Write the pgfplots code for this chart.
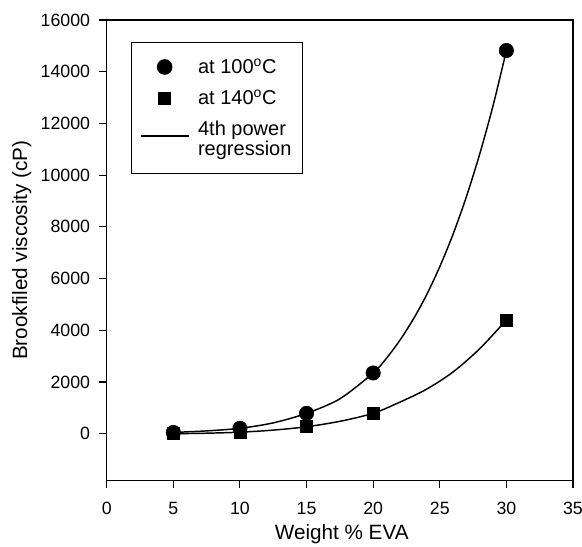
\documentclass[border=0pt]{standalone}
\usepackage{pgfplots}
\pgfplotsset{compat=1.18}
\usepackage{fontspec}
\setmainfont{Liberation Sans}
\pgfplotsset{
  reglegend/.style={legend image code/.code={\draw[##1] (0pt,2.5pt) -- (36pt,2.5pt); \path (0pt,-2.5pt);}}
}
\begin{document}
\begin{tikzpicture}
\begin{axis}[
  scale only axis,
  width=349.5pt, height=345pt,
  xmin=0, xmax=35, ymin=-1800, ymax=16000,
  xtick={0,5,...,35},
  ytick={0,2000,...,16000},
  xtick pos=bottom, ytick pos=left,
  tick align=outside,
  major tick length=6pt,
  tick style={black, line width=0.8pt},
  axis line style={line width=0.9pt},
  scaled y ticks=false,
  /pgf/number format/assume math mode=true,
  y tick label style={/pgf/number format/1000 sep={}, xshift=-3pt},
  x tick label style={yshift=-7pt},
  tick label style={font=\fontsize{13.3}{15}\selectfont},
  xlabel={Weight \% EVA},
  ylabel={Brookfiled viscosity (cP)},
  xlabel style={font=\fontsize{15.5}{18}\selectfont, at={(axis description cs:0.504,-0.118)}, anchor=center},
  ylabel style={font=\fontsize{15.5}{18}\selectfont, at={(axis description cs:-0.182,0.5)}, anchor=center},
  legend image code/.code={\draw[mark repeat=2,mark phase=2,#1] plot coordinates {(0pt,0pt) (18pt,0pt) (36pt,0pt)};},
  legend cell align=left,
  legend style={at={(axis description cs:0.052,0.952)}, anchor=north west,
    draw=black, line width=0.9pt, font=\fontsize{15}{13.5}\selectfont,
    inner xsep=6.25pt, inner ysep=10pt, row sep=7pt,
    nodes={align=left, font=\fontsize{15}{13.5}\selectfont},
    /tikz/every odd column/.append style={column sep=4.5pt}},
]
\addplot[only marks, mark=*, mark size=5.4pt, black] coordinates {
  (5,50) (10,210) (15,790) (20,2350) (30,14820)
};
\addlegendentry{at 100\textsuperscript{o}C}
\addplot[only marks, mark=square*, mark size=4.5pt, black] coordinates {
  (5,0) (10,60) (15,270) (20,790) (30,4400)
};
\addlegendentry{at 140\textsuperscript{o}C}
\addplot[black, line width=1.1pt, smooth, no marks, reglegend] coordinates {
  (5,50) (7.5,110) (10,210) (12.5,420) (15,790) (17.5,1350) (20,2350)
  (21,2920) (22,3610) (23,4420) (24,5360) (25,6460) (26,7720) (27,9170)
  (28,10820) (29,12690) (30,14820)
};
\addlegendentry{4th power\\regression}
\addplot[black, line width=1.1pt, smooth, no marks, forget plot] coordinates {
  (5,0) (7.5,20) (10,60) (12.5,140) (15,270) (17.5,480) (20,790)
  (22,1220) (24,1720) (26,2390) (28,3290) (30,4400)
};
\end{axis}
\path (current axis.south west) ++(-80pt,-49.5pt) coordinate (bbA);
\path (current axis.north east) ++(6.75pt,15pt) coordinate (bbB);
\pgfresetboundingbox
\path (bbA) rectangle (bbB);
\end{tikzpicture}
\end{document}
